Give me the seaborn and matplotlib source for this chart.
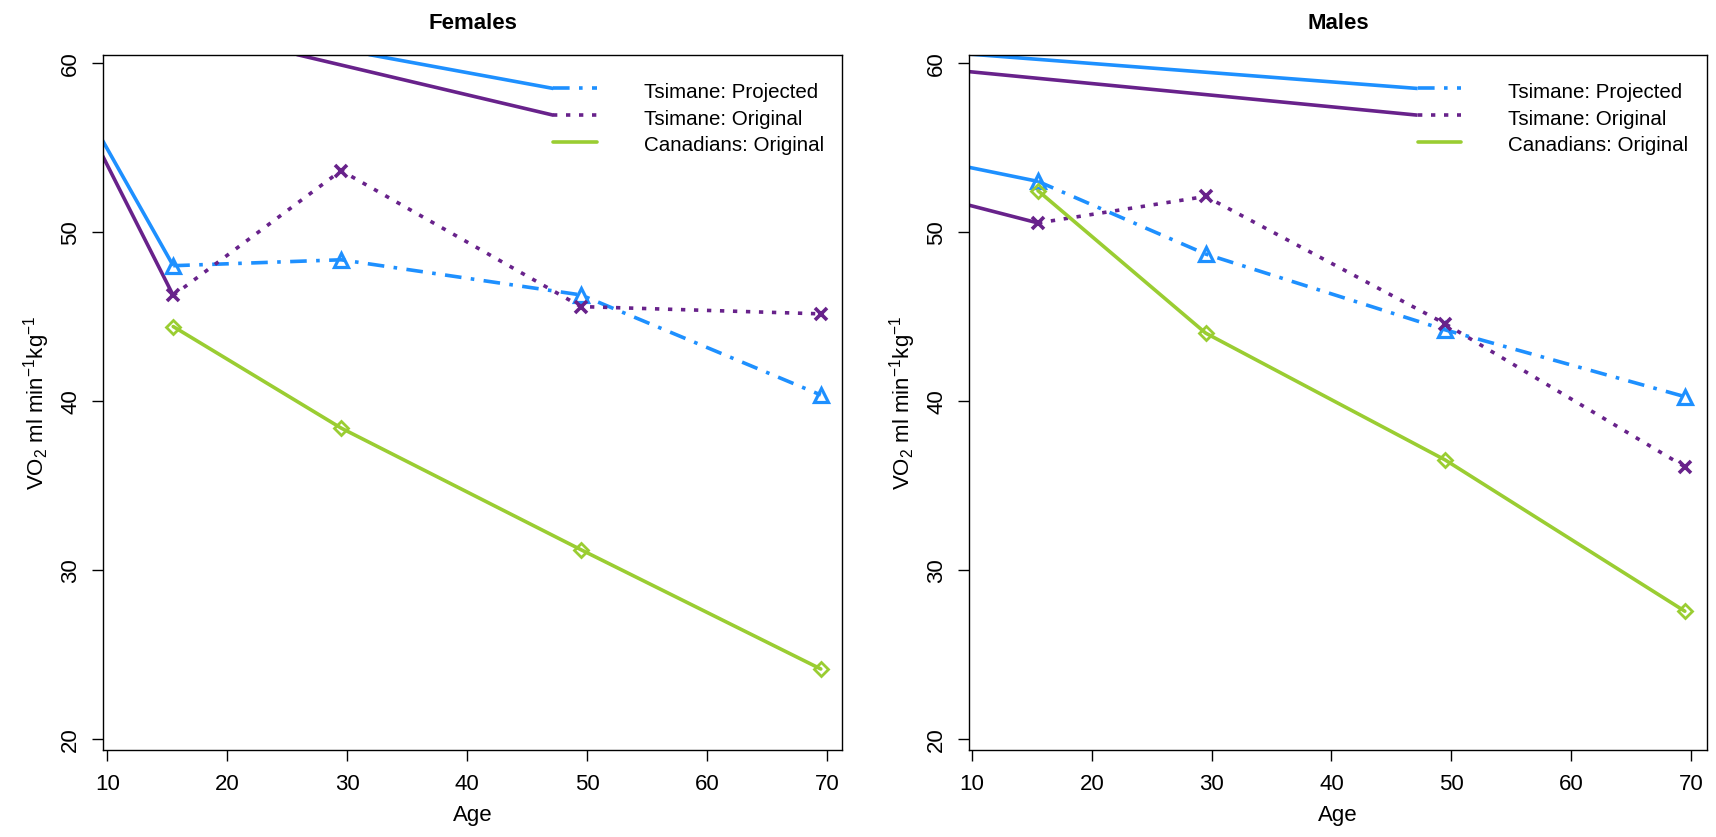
import matplotlib
matplotlib.use("Agg")
import matplotlib.pyplot as plt
import numpy as np
import pandas as pd
import seaborn as sns

# ---------------- data ----------------
ages = [15.5, 29.5, 49.5, 69.5]

female_projected = [48.03, 48.38, 46.30, 40.38]
female_original = [46.27, 53.66, 45.61, 45.18]
female_canadian = [44.43, 38.42, 31.22, 24.16]

male_projected = [53.02, 48.72, 44.23, 40.28]
male_original = [50.56, 52.13, 44.59, 36.13]
male_canadian = [52.47, 44.04, 36.53, 27.58]

series_names = ["Tsimane: Projected", "Tsimane: Original", "Canadians: Original"]
panel_titles = ["Females", "Males"]
x_ticks = [10, 20, 30, 40, 50, 60, 70]
y_ticks = [20, 30, 40, 50, 60]

# solid "lead-in" strokes seen in the original (start point -> first point / legend key)
female_lead_first = {"proj": (9.60, 55.45), "orig": (9.60, 54.55)}
female_lead_key = {"proj": (31.8, 60.53), "orig": (25.8, 60.53)}
male_lead_first = {"proj": (9.70, 53.86), "orig": (9.70, 51.62)}
male_lead_key = {"proj": (9.70, 60.56), "orig": (9.70, 59.52)}

# ---------------- styling ----------------
sns.set_theme(style="ticks")
plt.rcParams["font.family"] = ["Liberation Sans", "DejaVu Sans"]
plt.rcParams["mathtext.fontset"] = "custom"
plt.rcParams["mathtext.rm"] = "Liberation Sans"
plt.rcParams["mathtext.it"] = "Liberation Sans"
plt.rcParams["text.color"] = "black"
plt.rcParams["axes.labelcolor"] = "black"
plt.rcParams["xtick.color"] = "black"
plt.rcParams["ytick.color"] = "black"

BLUE = "#1E90FF"
PURPLE = "#68228B"
GREEN = "#9ACD32"
LW = 2.6

styles = {
    "proj": dict(color=BLUE, linestyle=(0, (4.6, 2.6, 1.0, 2.6)), marker="^",
                 markersize=10, markerfacecolor="none", markeredgecolor=BLUE,
                 markeredgewidth=2.3, dash_capstyle="butt"),
    "orig": dict(color=PURPLE, linestyle=(0, (1.2, 2.4)), marker="x",
                 markersize=9, markerfacecolor="none", markeredgecolor=PURPLE,
                 markeredgewidth=2.6, dash_capstyle="butt"),
    "can": dict(color=GREEN, linestyle="-", marker="D", markersize=7.5,
                markerfacecolor="none", markeredgecolor=GREEN, markeredgewidth=2.0),
}
keys = ["proj", "orig", "can"]

rows = []
for sex, vals in [("Females", [female_projected, female_original, female_canadian]),
                  ("Males", [male_projected, male_original, male_canadian])]:
    for k, v in zip(keys, vals):
        for a, y in zip(ages, v):
            rows.append(dict(sex=sex, series=k, age=a, vo2=y))
df = pd.DataFrame(rows)

fig = plt.figure(figsize=(17.16, 8.375), dpi=100)
axes = [fig.add_axes([0.0602, 0.1036, 0.4307, 0.8307]),
        fig.add_axes([0.5649, 0.1036, 0.4297, 0.8307])]
xlims = [(9.67, 71.3), (9.77, 71.33)]
leads_first = [female_lead_first, male_lead_first]
leads_key = [female_lead_key, male_lead_key]

legend_rows = [58.52, 56.94, 55.38]
key_x = (47.2, 50.85)
text_x = 54.75

for ax, title, xl, lf, lk in zip(axes, panel_titles, xlims, leads_first, leads_key):
    sub = df[df["sex"] == title]
    # lead-in solid strokes
    for k in ["proj", "orig"]:
        first_y = sub[(sub["series"] == k)]["vo2"].iloc[0]
        col = styles[k]["color"]
        seg = pd.DataFrame({"age": [lf[k][0], ages[0]], "vo2": [lf[k][1], first_y]})
        sns.lineplot(data=seg, x="age", y="vo2", ax=ax, color=col, lw=LW,
                     estimator=None, sort=False, solid_capstyle="butt")
        ky = legend_rows[keys.index(k)]
        seg2 = pd.DataFrame({"age": [lk[k][0], key_x[0]], "vo2": [lk[k][1], ky]})
        sns.lineplot(data=seg2, x="age", y="vo2", ax=ax, color=col, lw=LW,
                     estimator=None, sort=False, solid_capstyle="butt")
    # data series
    for k in keys:
        s = sub[sub["series"] == k]
        sns.lineplot(data=s, x="age", y="vo2", ax=ax, lw=LW, estimator=None,
                     sort=False, **styles[k])
    # manual legend
    for k, name, ry in zip(keys, series_names, legend_rows):
        st = {kk: vv for kk, vv in styles[k].items() if not kk.startswith("marker")}
        ax.plot(list(key_x), [ry, ry], lw=LW, **st)
        ax.text(text_x, ry - 0.2, name, fontsize=14.8, va="center", ha="left",
                color="black")

    ax.set_xlim(*xl)
    ax.set_ylim(19.35, 60.53)
    ax.set_xticks(x_ticks)
    ax.set_yticks(y_ticks)
    ax.set_title(title, fontsize=16, fontweight="bold", pad=19, color="black")
    ax.set_xlabel("Age", fontsize=16, labelpad=7)
    ax.set_ylabel(r"VO$_2$ ml min$^{-1}$kg$^{-1}$", fontsize=16, labelpad=6)
    ax.tick_params(axis="both", direction="out", length=8, width=1.0,
                   labelsize=16, color="black", labelcolor="black")
    ax.tick_params(axis="x", pad=9)
    ax.tick_params(axis="y", pad=8)
    for t in ax.get_yticklabels():
        t.set_rotation(90)
        t.set_va("center")
    for sp in ax.spines.values():
        sp.set_visible(True)
        sp.set_color("black")
        sp.set_linewidth(1.0)
    ax.grid(False)
    if ax.get_legend() is not None:
        ax.get_legend().remove()

fig.savefig("out.png", dpi=100, facecolor="white")
